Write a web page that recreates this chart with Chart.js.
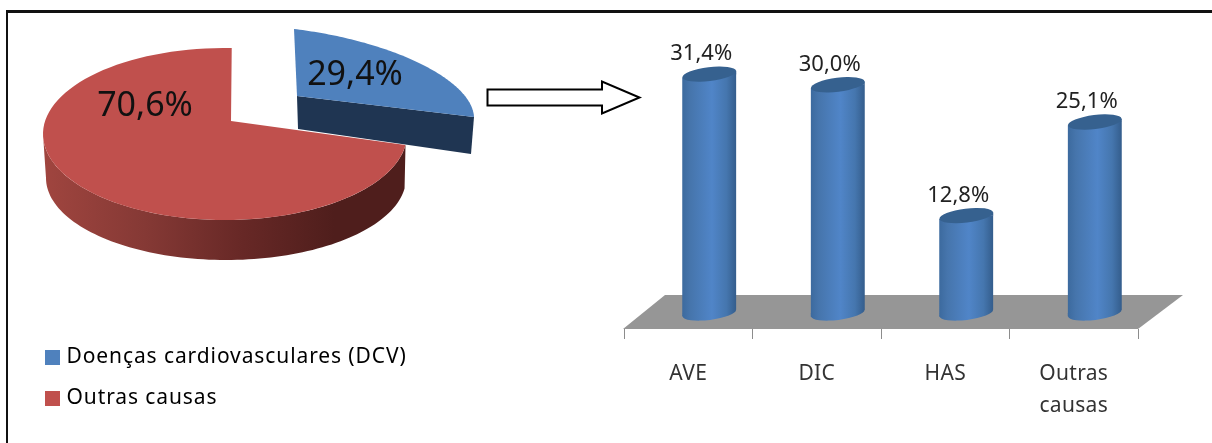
<!DOCTYPE html>
<html lang="pt">
<head>
<meta charset="utf-8">
<title>Causas de óbito</title>
<script src="https://cdn.jsdelivr.net/npm/chart.js@4"></script>
<style>
  html, body { margin: 0; padding: 0; background: #fff; width: 1212px; height: 443px; overflow: hidden; }
  canvas { position: absolute; top: 0; }
  #pie { left: 0; }
  #bars { left: 600px; }
  .rule { position: absolute; background: #111; }
  #ruleTop { left: 6px; top: 10px; width: 1206px; height: 3px; }
  #ruleLeft { left: 6px; top: 10px; width: 2px; height: 433px; }
  #arrow { position: absolute; left: 480px; top: 75px; }
</style>
</head>
<body>
<canvas id="pie" width="600" height="443"></canvas>
<canvas id="bars" width="612" height="443"></canvas>
<div class="rule" id="ruleTop"></div>
<div class="rule" id="ruleLeft"></div>
<svg id="arrow" width="170" height="45">
  <path d="M7.5 14.5H122V6.5L159.5 22.5L122 38.5V30.5H7.5Z" fill="#fff" stroke="#000" stroke-width="2"/>
</svg>
<script>
const pieLabels = ['Doenças cardiovasculares (DCV)', 'Outras causas'];
const pieValues = [29.4, 70.6];
const pieColors = ['#4f81bd', '#c0504d'];

const barLabels = ['AVE', 'DIC', 'HAS', ['Outras', 'causas']];
const barValues = [31.4, 30.0, 12.8, 25.1];

const FONT = '"Noto Sans", sans-serif';
const asPercent = v => v.toFixed(1).replace('.', ',') + '%';
const rad = d => d * Math.PI / 180;

// Perspective placement of each slice. A rim is a skewed ellipse c + u·sin t + v·cos t;
// skew and phase map a slice's data angle onto the rim parameter t (degrees from the top).
const sliceViews = [
  { rim: { c: [297, 96], u: [177, 21], v: [-3, -67] }, apex: [297, 96], skew: 0.85, phase: 0,
    label: [355, 75], drop: [[-3, 37], [1, 33]] },
  { rim: { c: [225, 134], u: [182, 0], v: [0, -86] }, apex: [231, 121], skew: 1.042, phase: -13,
    label: [145, 106], wall: { c: [226, 178], u: [180, 0], v: [0, -82] } }
];

const rimParam = (view, a) => (a * 180 / Math.PI + 90) * view.skew + view.phase;

function rimPoint(rim, deg) {
  const s = Math.sin(rad(deg)), k = Math.cos(rad(deg));
  return [rim.c[0] + rim.u[0] * s + rim.v[0] * k, rim.c[1] + rim.u[1] * s + rim.v[1] * k];
}

function traceRim(ctx, rim, from, to) {
  const steps = 96;
  for (let i = 0; i <= steps; i++) {
    const p = rimPoint(rim, from + (to - from) * i / steps);
    ctx.lineTo(p[0], p[1]);
  }
}

function drawSlice(ctx, arc, view, color) {
  const t0 = rimParam(view, arc.startAngle);
  const t1 = rimParam(view, arc.endAngle);

  if (view.wall) {
    // Curved outer wall, visible from the slice's lower edge round to the far left.
    const left = view.rim.c[0] - view.rim.u[0];
    const right = view.rim.c[0] + view.rim.u[0];
    const g = ctx.createLinearGradient(left, 0, right, 0);
    g.addColorStop(0, '#a0453f');
    g.addColorStop(0.28, '#853935');
    g.addColorStop(0.55, '#672826');
    g.addColorStop(0.8, '#4f1e1c');
    g.addColorStop(1, '#4f1e1c');
    ctx.beginPath();
    traceRim(ctx, view.rim, t0, 270);
    traceRim(ctx, view.wall, 270, t0);
    ctx.closePath();
    ctx.fillStyle = g;
    ctx.fill();
  }
  if (view.drop) {
    // Flat cut face below the exploded slice's lower radius.
    const end = rimPoint(view.rim, t1);
    ctx.beginPath();
    ctx.moveTo(view.apex[0], view.apex[1]);
    ctx.lineTo(end[0], end[1]);
    ctx.lineTo(end[0] + view.drop[0][0], end[1] + view.drop[0][1]);
    ctx.lineTo(view.apex[0] + view.drop[1][0], view.apex[1] + view.drop[1][1]);
    ctx.closePath();
    ctx.fillStyle = '#1f3552';
    ctx.fill();
  }
  ctx.beginPath();
  ctx.moveTo(view.apex[0], view.apex[1]);
  traceRim(ctx, view.rim, t0, t1);
  ctx.closePath();
  ctx.fillStyle = color;
  ctx.fill();
}

const pie3d = {
  id: 'pie3d',
  beforeLayout(chart) { chart.ctx.letterSpacing = '0.9px'; },
  beforeDraw(chart) { chart.ctx.letterSpacing = '0.9px'; },
  beforeDatasetDraw(chart) {
    const ctx = chart.ctx;
    const arcs = chart.getDatasetMeta(0).data;
    ctx.save();
    arcs.forEach((arc, i) => drawSlice(ctx, arc, sliceViews[i], pieColors[i]));
    ctx.fillStyle = '#111';
    ctx.font = '34px ' + FONT;
    ctx.letterSpacing = '0px';
    ctx.textAlign = 'center';
    ctx.textBaseline = 'middle';
    pieValues.forEach((v, i) => ctx.fillText(asPercent(v), sliceViews[i].label[0], sliceViews[i].label[1]));
    ctx.restore();
    return false;
  }
};

new Chart(document.getElementById('pie'), {
  type: 'pie',
  data: { labels: pieLabels, datasets: [{ data: pieValues, backgroundColor: pieColors }] },
  options: {
    responsive: false,
    animation: false,
    layout: { padding: { left: 29, bottom: 14 } },
    plugins: {
      tooltip: { enabled: false },
      legend: {
        position: 'left',
        align: 'end',
        maxWidth: 520,
        labels: {
          color: '#222',
          font: { family: FONT, size: 21 },
          boxWidth: 7,
          boxHeight: 7,
          padding: 20,
          generateLabels: () => pieLabels.map((text, i) => ({
            text, index: i, fillStyle: pieColors[i], strokeStyle: pieColors[i], lineWidth: 8
          }))
        }
      }
    }
  },
  plugins: [pie3d]
});

// Cylinder styling for the column chart.
const DEPTH_X = 21;
const CAP_RY = 7;
const CAP_TILT = rad(-7);
const capLift = half => Math.sin(-CAP_TILT) * half;

function bodyGradient(ctx, cx, half) {
  const g = ctx.createLinearGradient(cx - half, 0, cx + half, 0);
  g.addColorStop(0, '#3c6a9e');
  g.addColorStop(0.15, '#4675ac');
  g.addColorStop(0.55, '#5085c8');
  g.addColorStop(0.82, '#4576ae');
  g.addColorStop(1, '#345d8c');
  return g;
}

const cylinders = {
  id: 'cylinders',
  beforeDraw(chart) { chart.ctx.letterSpacing = '0.3px'; },
  beforeDatasetsDraw(chart) {
    const { ctx, chartArea: a } = chart;
    // Gray floor plane receding from the category axis.
    ctx.beginPath();
    ctx.moveTo(a.left - 1, a.bottom);
    ctx.lineTo(a.left + 41, a.bottom - 34);
    ctx.lineTo(a.right + 45, a.bottom - 34);
    ctx.lineTo(a.right, a.bottom);
    ctx.closePath();
    ctx.fillStyle = '#969696';
    ctx.fill();

    // Trim the columns' square corners so their ends follow the tilted caps.
    const y0 = chart.scales.y.getPixelForValue(0);
    ctx.save();
    ctx.translate(DEPTH_X, 0);
    ctx.beginPath();
    chart.getDatasetMeta(0).data.forEach(bar => {
      const half = bar.width / 2, lift = capLift(half);
      ctx.moveTo(bar.x - half, bar.y + lift);
      ctx.lineTo(bar.x, bar.y);
      ctx.lineTo(bar.x + half, bar.y - lift);
      ctx.lineTo(bar.x + half, y0 - lift);
      ctx.lineTo(bar.x, y0);
      ctx.lineTo(bar.x - half, y0 + lift);
      ctx.closePath();
    });
    ctx.clip();
  },
  afterDatasetsDraw(chart) {
    const ctx = chart.ctx;
    ctx.restore();
    const y0 = chart.scales.y.getPixelForValue(0);
    const bars = chart.getDatasetMeta(0).data;
    ctx.save();
    ctx.translate(DEPTH_X, 0);
    bars.forEach(bar => {
      const half = bar.width / 2, lift = capLift(half);
      ctx.fillStyle = bodyGradient(ctx, bar.x, half);
      // Rounded base and the wedge that joins it to the straight sides.
      ctx.beginPath();
      ctx.ellipse(bar.x, y0, half, CAP_RY, CAP_TILT, 0, Math.PI * 2);
      ctx.fill();
      ctx.beginPath();
      ctx.moveTo(bar.x - half, y0);
      ctx.lineTo(bar.x - half, y0 + lift);
      ctx.lineTo(bar.x, y0);
      ctx.fill();
      // Wedge under the raised side of the top cap, then the cap itself.
      ctx.beginPath();
      ctx.moveTo(bar.x, bar.y);
      ctx.lineTo(bar.x + half, bar.y - lift);
      ctx.lineTo(bar.x + half, bar.y);
      ctx.fill();
      ctx.beginPath();
      ctx.ellipse(bar.x, bar.y, half, CAP_RY, CAP_TILT, 0, Math.PI * 2);
      ctx.fillStyle = '#36618f';
      ctx.fill();
    });
    ctx.restore();
    ctx.save();
    ctx.fillStyle = '#222';
    ctx.font = '22px ' + FONT;
    ctx.letterSpacing = '0px';
    ctx.textAlign = 'center';
    ctx.textBaseline = 'middle';
    bars.forEach((bar, i) => {
      ctx.fillText(asPercent(barValues[i]), bar.x + DEPTH_X - 8, bar.y - 20);
    });
    ctx.restore();
  }
};

new Chart(document.getElementById('bars'), {
  type: 'bar',
  data: {
    labels: barLabels,
    datasets: [{
      data: barValues,
      barThickness: 54,
      clip: false,
      backgroundColor: c => {
        const x = c.chart.scales.x.getPixelForValue(c.dataIndex);
        return Number.isFinite(x) ? bodyGradient(c.chart.ctx, x, 27) : '#4f81bd';
      }
    }]
  },
  options: {
    responsive: false,
    animation: false,
    layout: { padding: { left: 24, right: 74, top: 32, bottom: 2 } },
    plugins: { legend: { display: false }, tooltip: { enabled: false } },
    scales: {
      y: { display: false, min: -2.11, max: 36.94 },
      x: {
        border: { display: false },
        grid: { offset: true, drawOnChartArea: false, drawTicks: true, tickLength: 10, color: '#8c8c8c', lineWidth: 1 },
        ticks: {
          color: '#333',
          padding: 19,
          maxRotation: 0,
          font: { family: FONT, size: 21, lineHeight: 1.524 }
        }
      }
    }
  },
  plugins: [cylinders]
});
</script>
</body>
</html>
